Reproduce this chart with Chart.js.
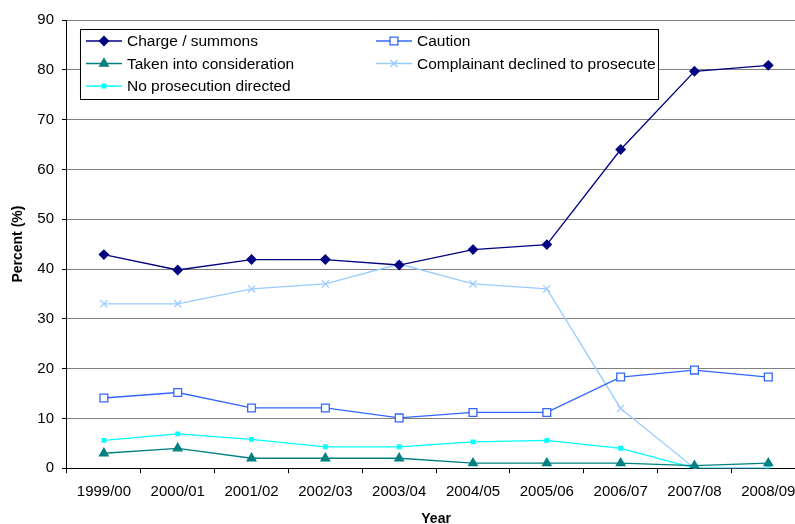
<!DOCTYPE html>
<html>
<head>
<meta charset="utf-8">
<script src="https://cdn.jsdelivr.net/npm/chart.js@4"></script>
<style>
  body { margin: 0; background: #fff; overflow: hidden; }
  #wrap { position: relative; width: 812px; height: 524px; }
</style>
</head>
<body>
<div id="wrap"><canvas id="myLineChart"></canvas></div>
<script>
// chart data
const years = ['1999/00', '2000/01', '2001/02', '2002/03', '2003/04', '2004/05', '2005/06', '2006/07', '2007/08', '2008/09'];
const chargeSummons = [42.9, 39.8, 41.9, 41.9, 40.8, 43.9, 44.9, 64, 79.7, 80.9];
const caution = [14.1, 15.2, 12.1, 12.1, 10.1, 11.2, 11.2, 18.3, 19.7, 18.3];
const takenIntoConsideration = [3, 4, 2, 2, 2, 1, 1, 1, 0.5, 1];
const complainantDeclined = [33, 33, 36, 37, 41, 37, 36, 12, 0, 0];
const noProsecution = [5.6, 6.9, 5.8, 4.3, 4.3, 5.3, 5.6, 4.0, 0, 0];
const yTicks = [0, 10, 20, 30, 40, 50, 60, 70, 80, 90];

const font = "'Liberation Sans', Arial, sans-serif";

const datasets = [
    { label: 'Charge / summons', data: chargeSummons, borderColor: '#000080', backgroundColor: '#000080',
      pointStyle: 'rectRot', pointRadius: 4.5 },
    { label: 'Caution', data: caution, borderColor: '#3366ff', backgroundColor: '#ffffff',
      pointStyle: 'rect', pointRadius: 5.5 },
    { label: 'Taken into consideration', data: takenIntoConsideration, borderColor: '#008080', backgroundColor: '#008080',
      pointStyle: 'triangle', pointRadius: 5 },
    { label: 'Complainant declined to prosecute', data: complainantDeclined, borderColor: '#99ccff', backgroundColor: '#99ccff',
      pointStyle: 'crossRot', pointRadius: 5 },
    { label: 'No prosecution directed', data: noProsecution, borderColor: '#00ffff', backgroundColor: '#00ffff',
      pointStyle: 'rect', pointRadius: 2.5 }
];
datasets.forEach(ds => {
    ds.tension = 0;
    ds.borderWidth = 1.3;
    ds.pointBorderWidth = 1.3;
    ds.pointHoverRadius = ds.pointRadius;
});

// boxed legend drawn inside the plot area
const boxLegend = {
    id: 'boxLegend',
    afterDraw(chart) {
        const ctx = chart.ctx;
        const area = chart.chartArea;
        const x0 = area.left + 13, y0 = area.top + 9, w = 578, h = 70;
        ctx.save();
        ctx.fillStyle = '#fff';
        ctx.fillRect(x0, y0, w, h);
        ctx.strokeStyle = '#000';
        ctx.lineWidth = 1;
        ctx.strokeRect(x0 + 0.5, y0 + 0.5, w, h);
        const cols = [x0 + 6, x0 + 296];
        const rows = [y0 + 12, y0 + 34.5, y0 + 57];
        const order = [[0, 0, 0], [1, 1, 0], [2, 0, 1], [3, 1, 1], [4, 0, 2]];
        ctx.font = '15.5px ' + font;
        ctx.textBaseline = 'middle';
        order.forEach(([i, c, r]) => {
            const ds = chart.data.datasets[i];
            const lx = cols[c], ly = rows[r];
            ctx.strokeStyle = ds.borderColor;
            ctx.lineWidth = 1.3;
            ctx.beginPath();
            ctx.moveTo(lx, ly);
            ctx.lineTo(lx + 36, ly);
            ctx.stroke();
            ctx.fillStyle = ds.backgroundColor;
            Chart.helpers.drawPoint(ctx, { pointStyle: ds.pointStyle, radius: ds.pointRadius, rotation: 0, borderWidth: 1.3 }, lx + 18, ly);
            ctx.fillStyle = '#000';
            ctx.fillText(ds.label, lx + 41, ly + 1);
        });
        ctx.restore();
    }
};

const ctx = document.getElementById('myLineChart').getContext('2d');
new Chart(ctx, {
    type: 'line',
    data: { labels: years, datasets: datasets },
    plugins: [boxLegend],
    options: {
        responsive: true,
        maintainAspectRatio: false,
        animation: false,
        layout: { padding: { left: 10, top: 20, right: 6, bottom: -4 } },
        plugins: { legend: { display: false }, tooltip: { enabled: false } },
        scales: {
            x: {
                offset: true,
                grid: { display: true, drawOnChartArea: false, offset: true, tickLength: 5, tickColor: '#000' },
                border: { color: '#000', width: 1 },
                ticks: { color: '#000', font: { family: font, size: 15 }, padding: 10, maxRotation: 0, autoSkip: false },
                title: { display: true, text: 'Year', color: '#000', font: { family: font, size: 14, weight: 'bold' }, padding: { top: 0, bottom: 0 } }
            },
            y: {
                min: 0,
                max: 90,
                afterBuildTicks: axis => { axis.ticks = yTicks.map(v => ({ value: v })); },
                grid: { color: '#808080', tickLength: 5, tickColor: '#000' },
                border: { color: '#000', width: 1 },
                ticks: { color: '#000', font: { family: font, size: 15 }, padding: 8 },
                title: { display: true, text: 'Percent (%)', color: '#000', font: { family: font, size: 14, weight: 'bold' }, padding: { top: 0, bottom: 2.5 } }
            }
        }
    }
});
</script>
</body>
</html>
